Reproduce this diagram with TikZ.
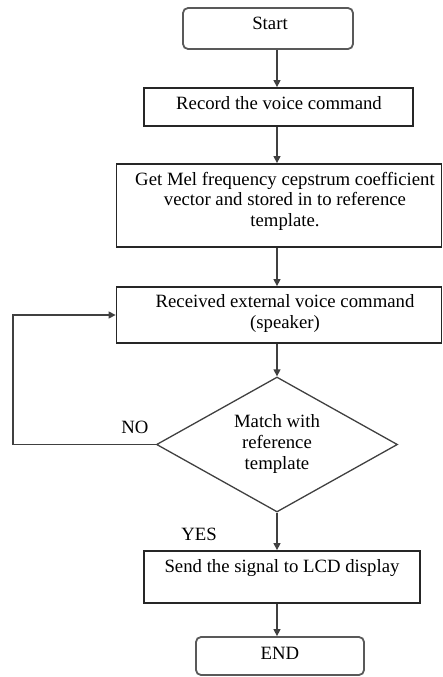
\documentclass[tikz,border=0pt]{standalone}
\usepackage{fontspec}
\setmainfont{Liberation Serif}
\usetikzlibrary{arrows.meta,shapes.geometric}
\begin{document}
\begin{tikzpicture}[x=1pt,y=-1pt,
 box/.style={draw=black!85,line width=1.8pt,rectangle,inner sep=0pt},
 rbox/.style={box,draw=black!65,rounded corners=5pt},
 dia/.style={draw=black!75,line width=1.3pt,diamond,inner sep=0pt},
 txt/.style={inner sep=0pt,font=\fontsize{18.75}{20.75}\selectfont,align=center,anchor=base},
 arr/.style={draw=black!75,line width=1.4pt,-{Triangle[length=7pt,width=7pt]}}]
\useasboundingbox (0,0) rectangle (443,677);
\coordinate (axis) at (277,0);
\coordinate (lp) at (13,0);
% boxes
\node[rbox,minimum width=170pt,minimum height=41pt] (start) at (268,28.5) {};
\node[box,minimum width=269pt,minimum height=38pt] (rec) at (278.5,107) {};
\node[box,minimum width=325pt,minimum height=83pt] (mel) at (279,205.5) {};
\node[box,minimum width=325pt,minimum height=56pt] (recv) at (279,315) {};
\node[dia,minimum width=241pt,minimum height=135pt] (dec) at (277,444.5) {};
\node[box,minimum width=276pt,minimum height=52pt] (send) at (282,577) {};
\node[rbox,minimum width=168pt,minimum height=38pt] (end) at (280,656) {};
% texts (base = baseline of the last line)
\node[txt] (tstart) at (270,30) {Start};
\node[txt] (trec) at (279,109) {Record the voice command};
\node[txt] (tmel) at (285,226.5) {Get Mel frequency cepstrum coefficient\\vector and stored in to reference\\template.};
\node[txt] (trecv) at (285,328) {Received external voice command\\(speaker)};
\node[txt] (tdec) at (277,469) {Match with\\reference\\template};
\node[txt] (tsend) at (282,572) {Send the signal to LCD display};
\node[txt] (tend) at (280,659) {END};
\node[txt] (tno) at (135,433) {NO};
\node[txt] (tyes) at (199,540) {YES};
% connectors
\draw[arr] (start.south -| axis) -- (rec.north -| axis);
\draw[arr] (rec.south -| axis) -- (mel.north -| axis);
\draw[arr] (mel.south -| axis) -- (recv.north -| axis);
\draw[arr] (recv.south -| axis) -- (dec.north);
\draw[arr] (dec.south) -- (send.north -| axis);
\draw[arr] (send.south -| axis) -- (end.north -| axis);
\draw[arr] (dec.west) -- (dec.west -| lp) |- (recv.west);
\end{tikzpicture}
\end{document}
